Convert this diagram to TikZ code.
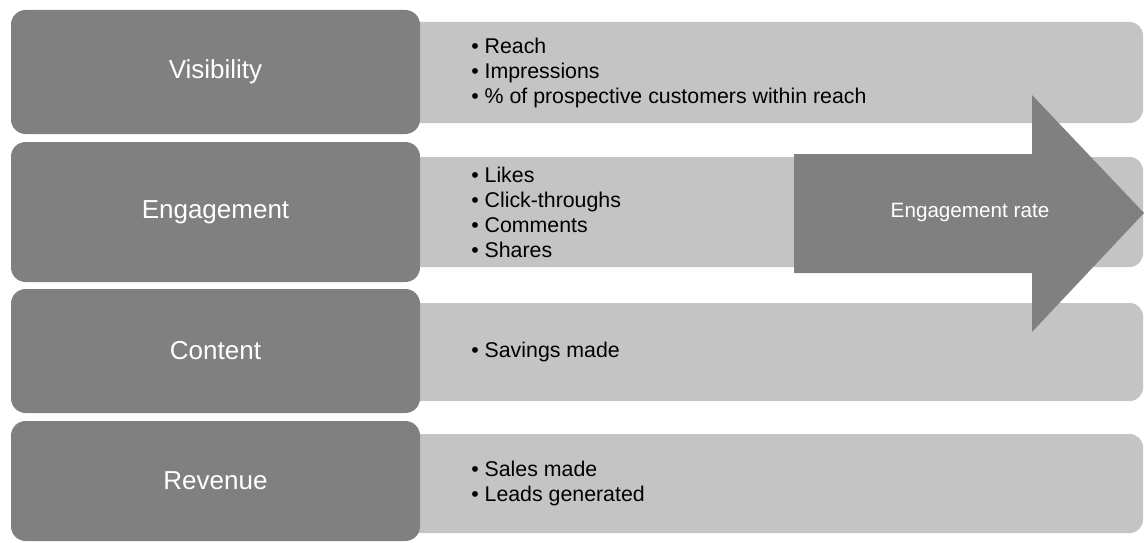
\documentclass[tikz,border=0pt]{standalone}
\usepackage{fontspec}
\setmainfont{Liberation Sans}
\usetikzlibrary{positioning}
\definecolor{darkgrey}{HTML}{808080}
\definecolor{lightgrey}{HTML}{C4C4C4}

\begin{document}
\begin{tikzpicture}[x=0.75pt,y=-0.75pt,inner sep=0pt,
    stage/.style={fill=darkgrey,rounded corners=11pt,text=white,minimum width=306.75pt,
      font=\fontsize{19.5}{23}\selectfont},
    band/.style={fill=lightgrey,rounded corners=10pt,minimum width=572.25pt},
    items/.style={anchor=west,align=left,font=\fontsize{16}{18.75}\selectfont}]
      \useasboundingbox (0,0) rectangle (1144,542);
      % light bands behind the stages
      \node[band,minimum height=75.75pt] (vband) at (761.5,72.5) {};
      \node[band,minimum height=82.5pt]  (eband) at (761.5,212) {};
      \node[band,minimum height=73.5pt]  (cband) at (761.5,352) {};
      \node[band,minimum height=74.25pt] (rband) at (761.5,483.5) {};

      \node[stage,minimum height=93pt]  (visibility) at (215.5,72) {Visibility};
      \node[stage,minimum height=105pt] (engagement) at (215.5,212) {Engagement};
      \node[stage,minimum height=93pt]  (content)    at (215.5,351) {Content};
      \node[stage,minimum height=90pt]  (revenue)    at (215.5,481) {Revenue};

      \node[items] (vitems) at (471,72.5) {• Reach\\• Impressions\\• \% of prospective customers within reach};
      \node[items] (eitems) at (471,212) {• Likes\\• Click-throughs\\• Comments\\• Shares};
      \node[items] (citems) at (471,352) {• Savings made};
      \node[items] (ritems) at (471,483) {• Sales made\\• Leads generated};

      % the big arrow
      \fill[darkgrey] (794,154) -- (1032,154) -- (1032,95) -- (1144,213)
        -- (1032,332) -- (1032,273) -- (794,273) -- cycle;
      \node[text=white,font=\fontsize{15.5}{18}\selectfont] (rate) at (970,213) {Engagement rate};
\end{tikzpicture}
\end{document}
